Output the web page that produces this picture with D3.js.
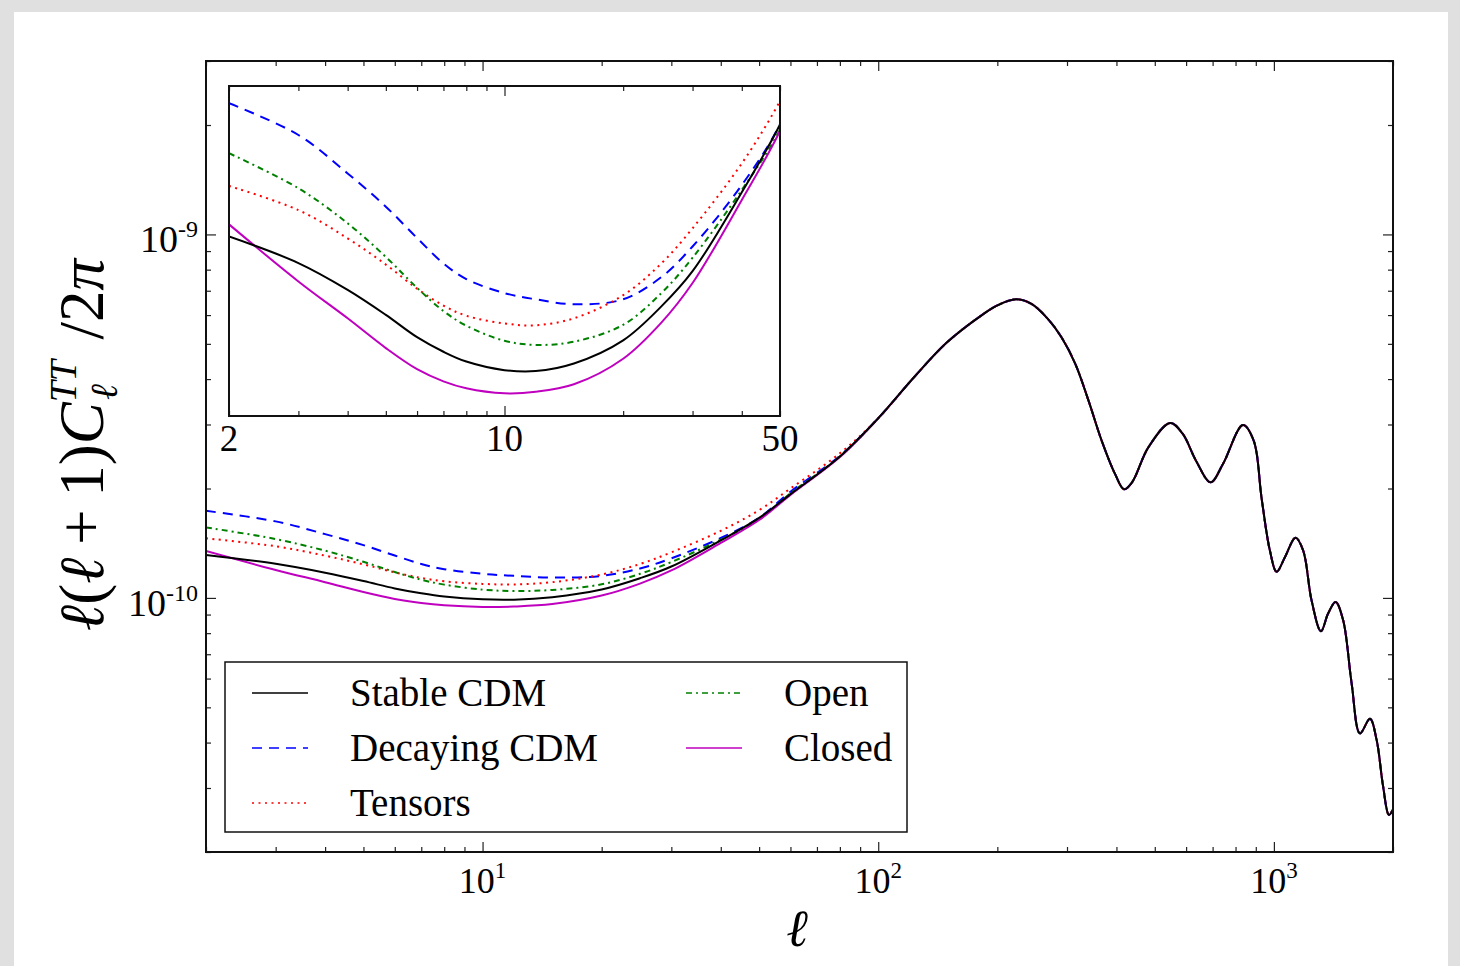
<!DOCTYPE html>
<html>
<head>
<meta charset="utf-8">
<script src="https://cdn.jsdelivr.net/npm/d3@7"></script>
<style>
body { margin: 0; background: #e0e0e0; }
svg { display: block; font-family: "Liberation Serif", "Times New Roman", serif; }
</style>
</head>
<body>
<svg id="chart" width="1460" height="966"></svg>
<script>
// values are in units of 1e-10
var UNIT = 1e-10;

// low multipoles, where the models differ
var ellLow = [2, 3, 4, 5, 6, 7, 8, 10, 12, 15, 20, 25, 30, 40, 50, 60, 80];
var stableLow   = [1.312, 1.241, 1.173, 1.113, 1.062, 1.030, 1.009, 0.991, 0.989, 1.005, 1.055, 1.133, 1.220, 1.440, 1.660, 1.93, 2.45];
var decayingLow = [1.736, 1.624, 1.498, 1.397, 1.308, 1.240, 1.200, 1.165, 1.150, 1.138, 1.150, 1.205, 1.285, 1.462, 1.661, 1.96, 2.46];
var tensorsLow  = [1.459, 1.387, 1.307, 1.237, 1.176, 1.135, 1.111, 1.093, 1.089, 1.105, 1.160, 1.240, 1.335, 1.530, 1.744, 2.00, 2.50];
var openLow     = [1.563, 1.452, 1.349, 1.257, 1.178, 1.122, 1.088, 1.054, 1.045, 1.052, 1.090, 1.165, 1.255, 1.447, 1.643, 1.94, 2.45];
var closedLow   = [1.346, 1.194, 1.105, 1.038, 0.993, 0.968, 0.954, 0.944, 0.947, 0.962, 1.015, 1.095, 1.190, 1.417, 1.638, 1.92, 2.44];

// high multipoles, same for every model
var ellHigh = [100, 123, 149, 182, 200, 223, 244, 269, 291, 315, 340, 367, 397, 418, 438, 482, 547, 588, 635, 692, 744, 835, 889, 931, 977, 1016, 1067, 1134, 1186, 1245, 1315, 1371, 1432, 1496, 1572, 1650, 1749, 1818, 1888, 1953, 2000];
var commonHigh = [3.12, 4.04, 5.04, 5.98, 6.38, 6.63, 6.44, 5.84, 5.20, 4.40, 3.49, 2.71, 2.19, 1.99, 2.08, 2.60, 3.03, 2.83, 2.39, 2.08, 2.34, 2.99, 2.71, 1.88, 1.35, 1.18, 1.296, 1.465, 1.35, 0.985, 0.81, 0.906, 0.975, 0.869, 0.582, 0.424, 0.465, 0.407, 0.303, 0.253, 0.262];

var seriesNames  = ["Stable CDM", "Decaying CDM", "Tensors", "Open", "Closed"];
var seriesLow    = [stableLow, decayingLow, tensorsLow, openLow, closedLow];
var seriesColors = ["#000000", "#0000ff", "#ff0000", "#008000", "#bf00bf"];
var seriesDash   = [null, "10,7", "2,4.5", "6,4,2,4", null];
var drawOrder    = [1, 2, 3, 4, 0];

var xMajor = [10, 100, 1000];
var xMajorExp = ["1", "2", "3"];
var yMajor = [1e-10, 1e-9];
var yMajorExp = ["-10", "-9"];
var insetLabels = [2, 10, 50];

var svg = d3.select("#chart");

// card
svg.append("rect").attr("x", 14).attr("y", 12).attr("width", 1434).attr("height", 960).attr("fill", "#fff");

var pL = 206, pR = 1393, pT = 61, pB = 852;
var x = d3.scaleLog().domain([2, 2000]).range([pL, pR]);
var y = d3.scaleLog().domain([2e-11, 3e-9]).range([pB, pT]);

var series = seriesNames.map(function (name, i) {
    var pts = [];
    ellLow.forEach(function (l, j) { pts.push([l, seriesLow[i][j] * UNIT]); });
    ellHigh.forEach(function (l, j) { pts.push([l, commonHigh[j] * UNIT]); });
    return {name: name, color: seriesColors[i], dash: seriesDash[i], values: pts};
});

var defs = svg.append("defs");
defs.append("clipPath").attr("id", "clipMain").append("rect")
    .attr("x", pL).attr("y", pT).attr("width", pR - pL).attr("height", pB - pT);

function isMajor(v) {
    var e = Math.log10(v);
    return Math.abs(e - Math.round(e)) < 1e-6;
}

// main curves
var line = d3.line()
    .x(function (d) { return x(d[0]); })
    .y(function (d) { return y(d[1]); })
    .curve(d3.curveCatmullRom.alpha(0.5));

var plot = svg.append("g").attr("clip-path", "url(#clipMain)");
drawOrder.forEach(function (i) {
    var s = series[i];
    plot.append("path")
        .attr("d", line(s.values))
        .attr("fill", "none")
        .attr("stroke", s.color)
        .attr("stroke-width", 2)
        .attr("stroke-dasharray", s.dash);
});

// ticks on all four sides, pointing inward
function tickAxis(axisFn, scale, values, size, tx, ty) {
    var g = svg.append("g").attr("transform", "translate(" + tx + "," + ty + ")")
        .call(axisFn(scale).tickValues(values).tickSize(-size).tickFormat(""));
    g.select(".domain").remove();
    g.selectAll("line").attr("stroke", "#222").attr("stroke-width", 1.2);
    return g;
}

var xAll = x.ticks();
var yAll = y.ticks();
var xMinor = xAll.filter(function (v) { return !isMajor(v); });
var yMinor = yAll.filter(function (v) { return !isMajor(v); });

tickAxis(d3.axisBottom, x, xMajor, 10, 0, pB);
tickAxis(d3.axisBottom, x, xMinor, 5, 0, pB);
tickAxis(d3.axisTop, x, xMajor, 10, 0, pT);
tickAxis(d3.axisTop, x, xMinor, 5, 0, pT);
tickAxis(d3.axisLeft, y, yMajor, 10, pL, 0);
tickAxis(d3.axisLeft, y, yMinor, 5, pL, 0);
tickAxis(d3.axisRight, y, yMajor, 10, pR, 0);
tickAxis(d3.axisRight, y, yMinor, 5, pR, 0);

svg.append("rect")
    .attr("x", pL).attr("y", pT).attr("width", pR - pL).attr("height", pB - pT)
    .attr("fill", "none").attr("stroke", "#111").attr("stroke-width", 2);

// tick labels
xMajor.forEach(function (v, i) {
    var t = svg.append("text")
        .attr("x", x(v)).attr("y", 893)
        .attr("text-anchor", "middle")
        .attr("font-size", 36);
    t.append("tspan").text("10");
    t.append("tspan").attr("font-size", 23).attr("dy", -15).text(xMajorExp[i]);
});

yMajor.forEach(function (v, i) {
    var t = svg.append("text")
        .attr("x", 198).attr("y", y(v) + 18)
        .attr("text-anchor", "end")
        .attr("font-size", 38);
    t.append("tspan").text("10");
    t.append("tspan").attr("font-size", 24).attr("dy", -15).text(yMajorExp[i]);
});

// axis labels
svg.append("text")
    .attr("x", 797).attr("y", 946)
    .attr("text-anchor", "middle")
    .attr("font-size", 52)
    .attr("font-style", "italic")
    .text("ℓ");

var yl = svg.append("text")
    .attr("transform", "translate(103,445) rotate(-90)")
    .attr("text-anchor", "middle")
    .attr("font-size", 63);
yl.append("tspan").attr("font-style", "italic").text("ℓ");
yl.append("tspan").text("(");
yl.append("tspan").attr("font-style", "italic").text("ℓ");
yl.append("tspan").text("\u2009+\u20091)");
yl.append("tspan").attr("font-style", "italic").text("C");
yl.append("tspan").attr("font-style", "italic").attr("font-size", 38).attr("dy", -27).text("TT");
yl.append("tspan").attr("font-style", "italic").attr("font-size", 38).attr("dx", -40).attr("dy", 41).text("ℓ");
yl.append("tspan").attr("dx", 32).attr("dy", -14).text("\u2009/2");
yl.append("tspan").attr("font-style", "italic").text("π");

// inset
var iL = 229, iR = 780, iT = 86, iB = 416;
var xi = d3.scaleLog().domain([2, 50]).range([iL, iR]);
var yi = d3.scaleLog().domain([0.9e-10, 1.8e-10]).range([iB, iT]);

svg.append("rect")
    .attr("x", iL).attr("y", iT).attr("width", iR - iL).attr("height", iB - iT)
    .attr("fill", "#fff");

defs.append("clipPath").attr("id", "clipInset").append("rect")
    .attr("x", iL).attr("y", iT).attr("width", iR - iL).attr("height", iB - iT);

var lineInset = d3.line()
    .x(function (d) { return xi(d[0]); })
    .y(function (d) { return yi(d[1]); })
    .curve(d3.curveCatmullRom.alpha(0.5));

var inset = svg.append("g").attr("clip-path", "url(#clipInset)");
drawOrder.forEach(function (i) {
    var s = series[i];
    inset.append("path")
        .attr("d", lineInset(s.values.filter(function (d) { return d[0] <= 60; })))
        .attr("fill", "none")
        .attr("stroke", s.color)
        .attr("stroke-width", 2)
        .attr("stroke-dasharray", s.dash);
});

var xiAll = xi.ticks();
var xiMajor = xiAll.filter(isMajor);
var xiMinor = xiAll.filter(function (v) { return !isMajor(v); });
tickAxis(d3.axisBottom, xi, xiMajor, 10, 0, iB);
tickAxis(d3.axisBottom, xi, xiMinor, 5, 0, iB);
tickAxis(d3.axisTop, xi, xiMajor, 10, 0, iT);
tickAxis(d3.axisTop, xi, xiMinor, 5, 0, iT);

svg.append("rect")
    .attr("x", iL).attr("y", iT).attr("width", iR - iL).attr("height", iB - iT)
    .attr("fill", "none").attr("stroke", "#111").attr("stroke-width", 2);

insetLabels.forEach(function (v) {
    svg.append("text")
        .attr("x", xi(v)).attr("y", 451)
        .attr("text-anchor", "middle")
        .attr("font-size", 37)
        .text(v);
});

// legend
var legend = svg.append("g");
legend.append("rect")
    .attr("x", 225).attr("y", 662).attr("width", 682).attr("height", 170)
    .attr("fill", "#fff").attr("stroke", "#111").attr("stroke-width", 1.5);

var legendPos = [[252, 693], [252, 748], [252, 803], [686, 693], [686, 748]];
series.forEach(function (s, i) {
    var p = legendPos[i];
    legend.append("line")
        .attr("x1", p[0]).attr("x2", p[0] + 56)
        .attr("y1", p[1]).attr("y2", p[1])
        .attr("stroke", s.color)
        .attr("stroke-width", 1.5)
        .attr("stroke-dasharray", s.dash);
    legend.append("text")
        .attr("x", p[0] + 98).attr("y", p[1] + 13)
        .attr("font-size", 39)
        .text(s.name);
});
</script>
</body>
</html>
